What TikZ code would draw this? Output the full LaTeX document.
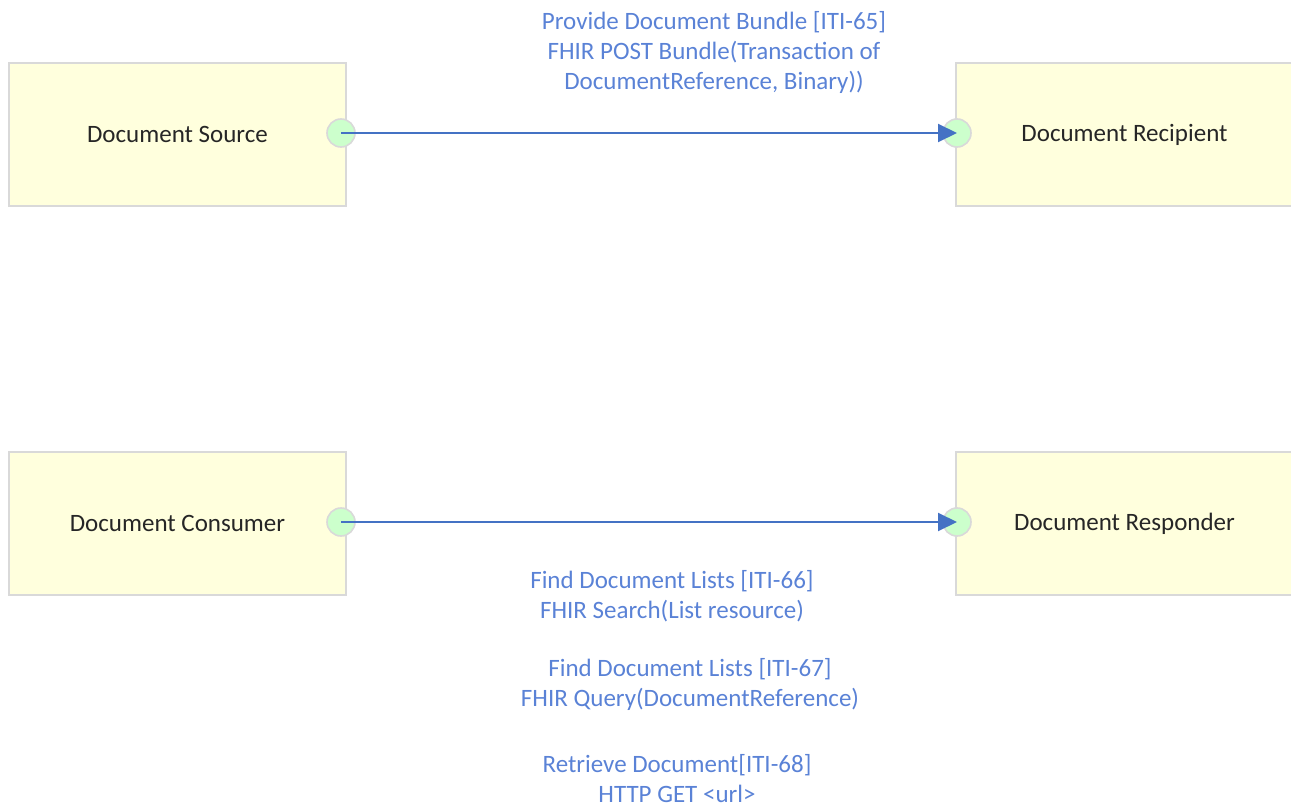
\documentclass[tikz,border=0pt]{standalone}
\usepackage{fontspec}
\setmainfont{Carlito}
\usetikzlibrary{arrows.meta}
\definecolor{actorfill}{RGB}{255,255,221}
\definecolor{actorline}{RGB}{217,217,217}
\definecolor{portfill}{RGB}{204,255,204}
\definecolor{flowline}{RGB}{68,114,196}
\definecolor{msgtext}{RGB}{90,130,214}
\begin{document}
\begin{tikzpicture}[x=0.5pt,y=-0.5pt,
    actor/.style={draw=actorline,line width=1pt,fill=actorfill,minimum width=168.5pt,minimum height=71.5pt,
      text=black!85,font=\fontsize{12.5}{15}\selectfont},
    port/.style={circle,draw=actorline,line width=0.8pt,fill=portfill,minimum size=14pt,inner sep=0pt},
    msg/.style={align=center,text=msgtext,font=\fontsize{12.5}{15}\selectfont}]
    \useasboundingbox (0,0) rectangle (1291,808);
    \node[actor] (src) at (177.5,134.5) {Document Source};
    \node[actor] (rcp) at (1124.5,134.5) {Document Recipient};
    \node[actor] (con) at (177.5,523.5) {Document Consumer};
    \node[actor] (rsp) at (1124.5,523.5) {Document Responder};
    \node[port] (srcp) at (341,133) {};
    \node[port] (rcpp) at (957,133) {};
    \node[port] (conp) at (341,522) {};
    \node[port] (rspp) at (957,522) {};
    \draw[flowline,line width=1pt,-{Triangle[length=9.5pt,width=9pt]}] (srcp.center) -- (rcpp.center);
    \draw[flowline,line width=1pt,-{Triangle[length=9.5pt,width=9pt]}] (conp.center) -- (rspp.center);
    \node[msg] (iti65) at (714,52) {Provide Document Bundle [ITI-65]\\FHIR POST Bundle(Transaction of\\DocumentReference, Binary))};
    \node[msg] (iti66) at (672,596) {Find Document Lists [ITI-66]\\FHIR Search(List resource)};
    \node[msg] (iti67) at (690,684.5) {Find Document Lists [ITI-67]\\FHIR Query(DocumentReference)};
    \node[msg] (iti68) at (677,778.5) {Retrieve Document[ITI-68]\\HTTP GET <url>};
  \end{tikzpicture}
\end{document}
